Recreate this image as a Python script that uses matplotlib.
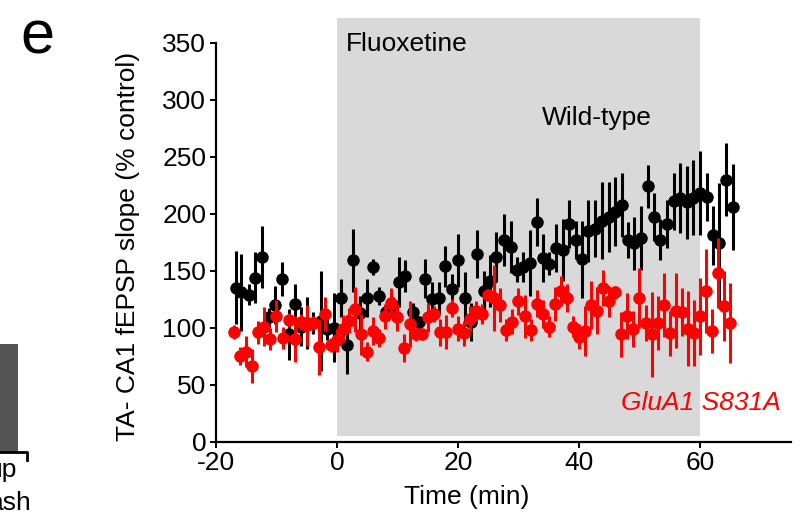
import matplotlib
matplotlib.use('Agg')
import matplotlib.pyplot as plt
from matplotlib.patches import Rectangle
from matplotlib.lines import Line2D

plt.rcParams['font.family'] = ['Liberation Sans', 'DejaVu Sans']
plt.rcParams['axes.unicode_minus'] = False

# Wild-type (black)
wt_time = [-16.7, -15.8, -14.5, -13.5, -12.4, -11.3, -10.2, -9.1, -8.0, -6.9,
           -6.0, -4.9, -3.9, -2.7, -1.7, -0.5, 0.6, 1.6, 2.7, 3.8,
           4.9, 5.9, 7.0, 8.1, 9.2, 10.2, 11.3, 12.5, 13.5, 14.6,
           15.7, 16.8, 17.9, 19.0, 20.0, 21.1, 22.1, 23.2, 24.3, 25.3,
           26.3, 27.6, 28.7, 29.7, 30.8, 31.9, 33.0, 34.0, 35.1, 36.2,
           37.3, 38.3, 39.5, 40.5, 41.5, 42.7, 43.8, 44.9, 46.0, 47.1,
           48.1, 49.1, 50.2, 51.4, 52.4, 53.4, 54.6, 55.7, 56.7, 57.8,
           58.9, 60.0, 61.1, 62.1, 63.1, 64.3, 65.4]
wt_slope = [135, 131, 129, 144, 162, 109, 120, 143, 94, 121,
            101, 104, 104, 106, 99, 100, 126, 85, 159, 113,
            126, 153, 128, 114, 120, 140, 145, 114, 105, 143,
            125, 126, 154, 134, 159, 126, 105, 165, 132, 141,
            162, 177, 171, 151, 153, 157, 193, 161, 156, 170,
            168, 191, 177, 160, 185, 187, 194, 197, 202, 208,
            177, 174, 179, 224, 197, 177, 191, 211, 214, 210,
            214, 218, 215, 181, 174, 230, 206]
wt_err = [32, 34, 9, 22, 27, 8, 17, 15, 22, 17,
          17, 23, 10, 44, 10, 30, 17, 26, 28, 15,
          17, 7, 8, 5, 7, 22, 14, 8, 4, 17,
          15, 14, 18, 13, 23, 23, 17, 21, 18, 23,
          22, 23, 23, 11, 13, 29, 21, 21, 10, 21,
          27, 21, 17, 34, 27, 25, 34, 31, 30, 28,
          16, 23, 28, 19, 21, 18, 21, 25, 31, 32,
          33, 37, 21, 26, 53, 32, 38]

# GluA1 S831A (red)
mut_time = list(range(-17, 66))
mut_slope = [96, 75, 79, 66, 96, 101, 90, 110, 91, 107,
             90, 105, 102, 104, 83, 112, 85, 89, 99, 106,
             116, 94, 79, 97, 91, 110, 122, 109, 82, 103,
             94, 94, 109, 112, 96, 96, 117, 99, 95, 108,
             115, 112, 129, 126, 120, 98, 105, 123, 110, 98,
             121, 112, 101, 121, 132, 126, 101, 92, 97, 120,
             115, 135, 123, 131, 94, 110, 99, 126, 104, 94,
             104, 120, 95, 115, 114, 99, 95, 110, 132, 97,
             148, 119, 104]
mut_err = [6, 8, 14, 15, 10, 17, 10, 14, 10, 6,
           20, 7, 18, 6, 25, 15, 6, 10, 12, 11,
           20, 18, 8, 12, 8, 11, 13, 12, 12, 20,
           6, 4, 13, 7, 12, 15, 8, 11, 11, 11,
           8, 9, 5, 29, 15, 10, 11, 12, 19, 10,
           12, 12, 9, 15, 13, 12, 9, 11, 22, 21,
           21, 16, 14, 6, 20, 20, 16, 26, 16, 37,
           24, 28, 20, 33, 21, 33, 29, 34, 37, 19,
           31, 31, 35]

fs = 19

fig = plt.figure(figsize=(8.04, 5.17), dpi=100)
ax = fig.add_axes([216 / 804, 1 - 441.5 / 517, 574.7 / 804, 398.5 / 517])

# fluoxetine application period
ax.add_patch(Rectangle((0, 5), 60, 367, facecolor='#d9d9d9', edgecolor='none',
                       zorder=0, clip_on=False))

ax.errorbar(wt_time, wt_slope, yerr=wt_err, fmt='o', color='black',
            markersize=8, elinewidth=2.2, capsize=0, zorder=2)
ax.errorbar(mut_time, mut_slope, yerr=mut_err, fmt='o', color='#ff0000',
            markersize=8, elinewidth=2.2, capsize=0, zorder=3)

ax.set_xlim(-20, 75)
ax.set_ylim(0, 350)
ax.set_xticks([-20, 0, 20, 40, 60])
ax.set_yticks(range(0, 351, 50))
for s in ['top', 'right']:
    ax.spines[s].set_visible(False)
for s in ['left', 'bottom']:
    ax.spines[s].set_linewidth(1.6)
ax.tick_params(labelsize=fs, length=4, width=1.4, pad=3)

ax.text(-0.153, 0.49, 'TA- CA1 fEPSP slope (% control)', transform=ax.transAxes,
        rotation=90, ha='center', va='center', fontsize=fs)
ax.text(0.437, -0.14, 'Time (min)', transform=ax.transAxes,
        ha='center', va='center', fontsize=fs)

ax.text(1.5, 349, 'Fluoxetine', fontsize=fs, ha='left', va='center')
ax.text(33.9, 284, 'Wild-type', fontsize=fs, ha='left', va='center')
ax.text(47.0, 34, 'GluA1 S831A', fontsize=fs, ha='left', va='center',
        color='#ff0000', style='italic')

# panel letter
fig.text(37 / 804, 1 - 38 / 517, 'e', fontsize=44, ha='center', va='center')

# edge of the neighbouring panel
fig.patches.append(Rectangle((0, 1 - 452 / 517), 18 / 804, 108 / 517,
                             facecolor='#555555', edgecolor='none',
                             transform=fig.transFigure))
fig.lines.append(Line2D([0, 27 / 804, 27 / 804],
                        [1 - 452 / 517, 1 - 452 / 517, 1 - 460 / 517],
                        color='black', linewidth=2, transform=fig.transFigure))
fig.text(17 / 804, 1 - 470 / 517, 'up', fontsize=fs, ha='right', va='center')
fig.text(32 / 804, 1 - 503 / 517, 'ash', fontsize=fs, ha='right', va='center')

fig.savefig('out.png', dpi=100)
